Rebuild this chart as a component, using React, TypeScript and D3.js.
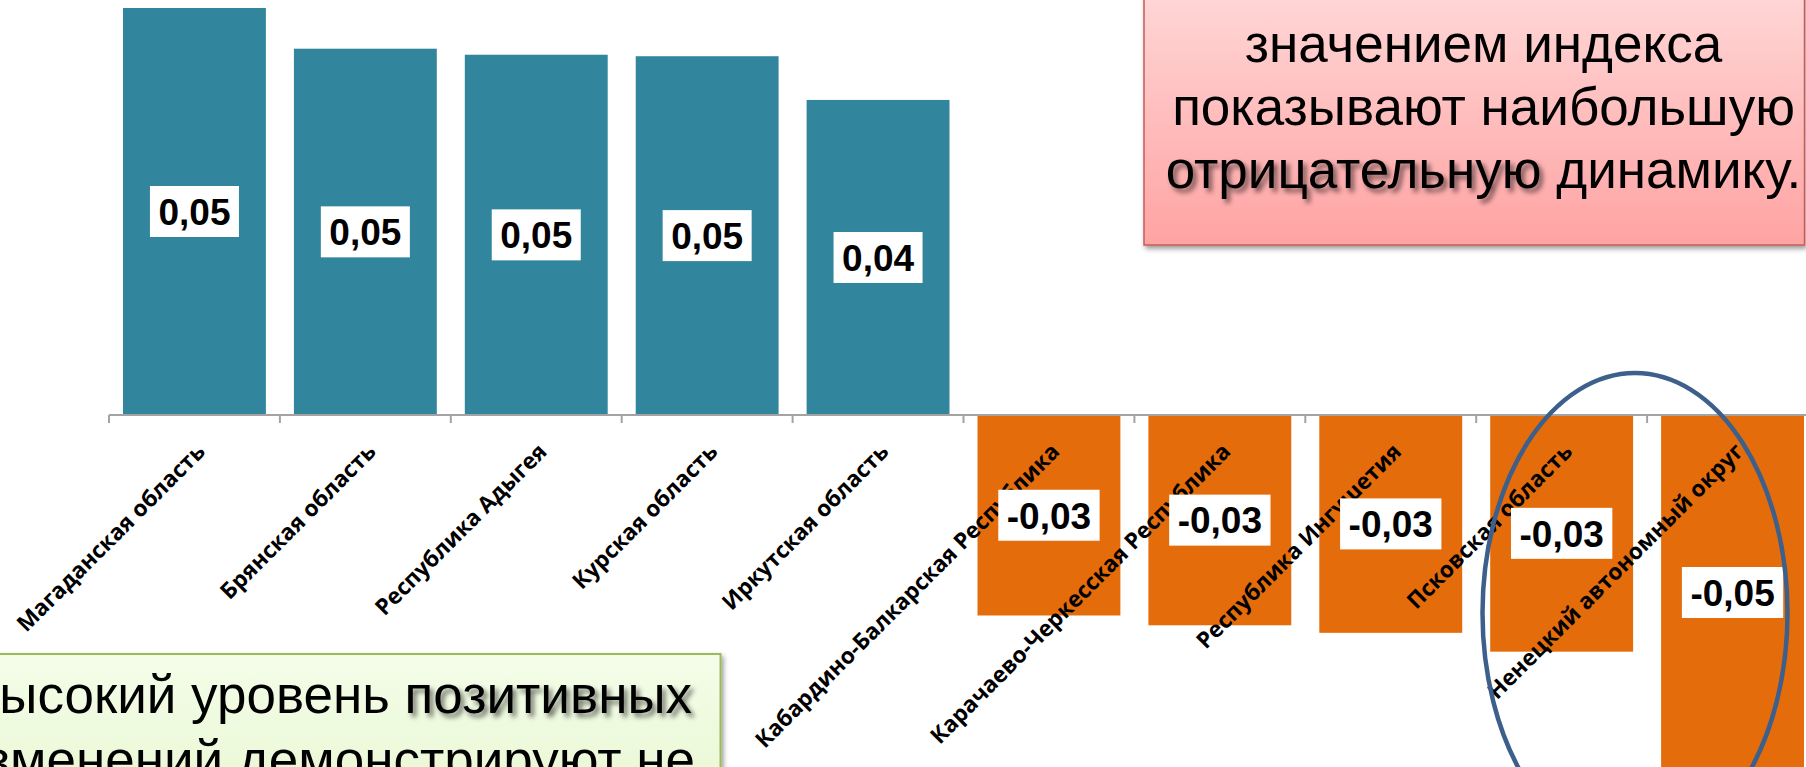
import React, { useEffect, useRef } from "react";
import * as d3 from "d3";

const categories: string[] = [
  "Магаданская область",
  "Брянская область",
  "Республика Адыгея",
  "Курская область",
  "Иркутская область",
  "Кабардино-Балкарская Республика",
  "Карачаево-Черкесская Республика",
  "Республика Ингушетия",
  "Псковская область",
  "Ненецкий автономный округ",
];

const values: number[] = [
  0.054, 0.0486, 0.0478, 0.0476, 0.0418, -0.0266, -0.0279, -0.0289, -0.0314, -0.0471,
];

type Seg = { t: string; s: boolean };

const pinkLines: Seg[][] = [
  [{ t: "значением индекса", s: false }],
  [{ t: "показывают наибольшую", s: false }],
  [
    { t: "отрицательную", s: true },
    { t: " динамику.", s: false },
  ],
];

const greenLines: Seg[][] = [
  [
    { t: "Высокий уровень ", s: false },
    { t: "позитивных", s: true },
  ],
  [{ t: "изменений демонстрируют не", s: false }],
];

const W = 1806;
const H = 767;

const ruLocale = d3.formatLocale({
  decimal: ",",
  thousands: " ",
  grouping: [3],
  currency: ["", ""],
  minus: "-",
});
const fmt = ruLocale.format(".2f");

export default function App() {
  const ref = useRef<SVGSVGElement | null>(null);

  useEffect(() => {
    const svg = d3.select(ref.current as SVGSVGElement);
    svg.selectAll("*").remove();
    const defs = svg.append("defs");

    const pg = defs
      .append("linearGradient")
      .attr("id", "pinkGrad")
      .attr("x1", 0)
      .attr("y1", 0)
      .attr("x2", 0)
      .attr("y2", 1);
    pg.append("stop").attr("offset", "0%").attr("stop-color", "#FFD7D7");
    pg.append("stop").attr("offset", "100%").attr("stop-color", "#FFA3A3");

    const gg = defs
      .append("linearGradient")
      .attr("id", "greenGrad")
      .attr("x1", 0)
      .attr("y1", 0)
      .attr("x2", 0)
      .attr("y2", 1);
    gg.append("stop").attr("offset", "0%").attr("stop-color", "#F4FDE9");
    gg.append("stop").attr("offset", "100%").attr("stop-color", "#E4F6CC");

    const boxShadow = defs
      .append("filter")
      .attr("id", "boxShadow")
      .attr("x", "-10%")
      .attr("y", "-10%")
      .attr("width", "130%")
      .attr("height", "130%");
    boxShadow
      .append("feDropShadow")
      .attr("dx", 2)
      .attr("dy", 3)
      .attr("stdDeviation", 2.5)
      .attr("flood-color", "#000")
      .attr("flood-opacity", 0.4);

    const textShadow = defs
      .append("filter")
      .attr("id", "textShadow")
      .attr("x", "-10%")
      .attr("y", "-30%")
      .attr("width", "130%")
      .attr("height", "170%");
    textShadow.append("feGaussianBlur").attr("stdDeviation", 2.4);

    const x = d3
      .scaleBand<string>()
      .domain(categories)
      .range([109, 1818])
      .paddingInner(0.164)
      .paddingOuter(0.082);
    const y = d3.scaleLinear().domain([0, 0.054]).range([415, 8]);
    const y0 = y(0);
    const bw = x.bandwidth();
    const gap = x.step() - bw;

    // bars
    svg
      .append("g")
      .selectAll("rect")
      .data(categories)
      .join("rect")
      .attr("x", (d) => x(d) as number)
      .attr("y", (d, i) => Math.min(y(values[i]), y0))
      .attr("width", bw)
      .attr("height", (d, i) => Math.abs(y(values[i]) - y0))
      .attr("fill", (d, i) => (values[i] >= 0 ? "#31859C" : "#E46C0A"));

    // axis
    const ax = svg.append("g");
    const r = x.range();
    ax.append("line")
      .attr("x1", r[0])
      .attr("x2", r[1])
      .attr("y1", y0)
      .attr("y2", y0)
      .attr("stroke", "#A3A3A3")
      .attr("stroke-width", 2);
    const bounds = categories.map((c) => (x(c) as number) - gap / 2);
    bounds.push((x(categories[categories.length - 1]) as number) + bw + gap / 2);
    ax.selectAll("line.tick")
      .data(bounds)
      .join("line")
      .attr("class", "tick")
      .attr("x1", (d) => d)
      .attr("x2", (d) => d)
      .attr("y1", y0)
      .attr("y2", y0 + 8)
      .attr("stroke", "#A3A3A3")
      .attr("stroke-width", 2);

    // category labels
    svg
      .append("g")
      .selectAll("text")
      .data(categories)
      .join("text")
      .attr(
        "transform",
        (d) => `translate(${(x(d) as number) + bw / 2 + 12},${y0 + 38}) rotate(-45)`
      )
      .attr("text-anchor", "end")
      .attr("font-family", "'Open Sans', sans-serif")
      .attr("font-weight", 700)
      .attr("font-size", 22.5)
      .attr("fill", "#000")
      .text((d) => d);

    // data labels
    const dl = svg
      .append("g")
      .selectAll("g")
      .data(categories)
      .join("g")
      .attr("transform", (d, i) => {
        const cx = (x(d) as number) + bw / 2;
        const cy = (y(values[i]) + y0) / 2;
        return `translate(${cx},${cy})`;
      });
    dl.append("rect").attr("fill", "#fff");
    dl.append("text")
      .attr("text-anchor", "middle")
      .attr("y", 13.3)
      .attr("font-family", "'Liberation Sans', Arial, sans-serif")
      .attr("font-weight", 700)
      .attr("font-size", 37)
      .attr("fill", "#000")
      .text((d, i) => fmt(values[i]));
    dl.each(function () {
      const g = d3.select(this);
      const t = g.select("text").node() as SVGTextElement;
      const w = t.getComputedTextLength() + 17;
      g.select("rect")
        .attr("x", -w / 2)
        .attr("y", -25.5)
        .attr("width", w)
        .attr("height", 51);
    });

    const drawLines = (
      lines: Seg[][],
      xPos: number[],
      baselines: number[],
      anchor: string
    ) => {
      const g = svg.append("g");
      lines.forEach((segs, li) => {
        const common = (sel: any) =>
          sel
            .attr("x", xPos[li])
            .attr("y", baselines[li])
            .attr("text-anchor", anchor)
            .attr("font-family", "'Liberation Sans', Arial, sans-serif")
            .attr("font-size", 53);
        if (segs.some((s) => s.s)) {
          const sh = g
            .append("text")
            .call(common)
            .attr("transform", "translate(3.5,3.5)")
            .attr("filter", "url(#textShadow)");
          segs.forEach((s) =>
            sh
              .append("tspan")
              .attr("fill", s.s ? "#000" : "none")
              .attr("fill-opacity", s.s ? 0.55 : 0)
              .text(s.t)
          );
        }
        const t = g.append("text").call(common).attr("fill", "#000");
        segs.forEach((s) => t.append("tspan").text(s.t));
      });
    };

    // pink box
    svg
      .append("rect")
      .attr("x", 1144)
      .attr("y", -10)
      .attr("width", 1804.5 - 1144)
      .attr("height", 255)
      .attr("fill", "url(#pinkGrad)")
      .attr("stroke", "#C65C59")
      .attr("stroke-width", 1.5)
      .attr("filter", "url(#boxShadow)");
    drawLines(pinkLines, [1483.5, 1483.5, 1483.5], [62, 125, 188], "middle");

    // green box
    svg
      .append("rect")
      .attr("x", -20)
      .attr("y", 654)
      .attr("width", 720.5 + 20)
      .attr("height", 200)
      .attr("fill", "url(#greenGrad)")
      .attr("stroke", "#9BBB59")
      .attr("stroke-width", 2)
      .attr("filter", "url(#boxShadow)");
    drawLines(greenLines, [692, 695], [713, 778], "end");

    // ellipse
    svg
      .append("ellipse")
      .attr("cx", 1635)
      .attr("cy", 613)
      .attr("rx", 152.5)
      .attr("ry", 240)
      .attr("fill", "none")
      .attr("stroke", "#3C5F8C")
      .attr("stroke-width", 4.5);
  }, []);

  return (
    <div
      style={{
        position: "absolute",
        left: 0,
        top: 0,
        width: W,
        height: H,
        overflow: "hidden",
        background: "#fff",
      }}
    >
      <svg ref={ref} width={W} height={H} style={{ display: "block" }} />
    </div>
  );
}
